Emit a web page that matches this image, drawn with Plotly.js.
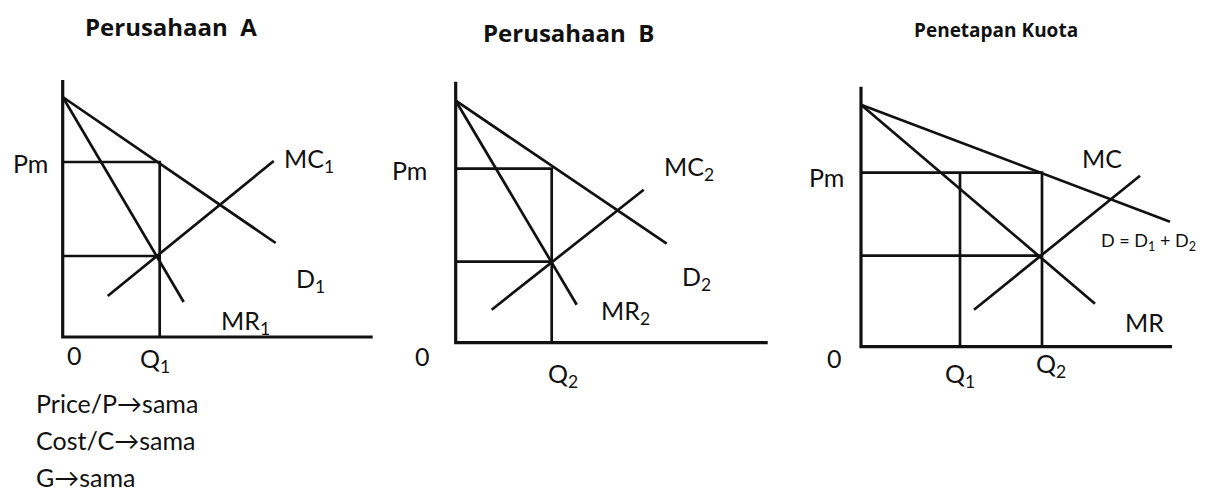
<!DOCTYPE html>
<html>
<head>
<meta charset="utf-8">
<script src="https://cdn.plot.ly/plotly-3.0.1.min.js"></script>
<style>html,body{margin:0;padding:0;background:#fff;}#chart{width:1213px;height:493px;}</style>
</head>
<body>
<div id="chart"></div>
<script>
// ---------- DATA (economic units: quantity q, price p) ----------
// Panel A : Perusahaan A
const titleA = "Perusahaan  A";
const demandA_q = [0, 21.3];  const demandA_p = [24.0, 9.4];
const mrA_q = [0, 12.1];      const mrA_p = [24.0, 3.5];
const mcA_q = [4.5, 21.1];    const mcA_p = [4.1, 17.6];
const pmA = 17.5;   const qA = 9.7;   const mcEqA = 8.1;
const axisA_q = 31.0; const axisA_p = 25.7;
const labelsA = ["Pm", "MC<sub>1</sub>", "D<sub>1</sub>", "MR<sub>1</sub>", "0", "Q<sub>1</sub>"];
const notesA = ["Price/P→sama", "Cost/C→sama", "G→sama"];

// Panel B : Perusahaan B
const titleB = "Perusahaan  B";
const demandB_q = [0, 21.1];  const demandB_p = [24.2, 9.9];
const mrB_q = [0, 12.1];      const mrB_p = [24.2, 3.8];
const mcB_q = [3.6, 18.8];    const mcB_p = [3.3, 15.3];
const pmB = 17.4;   const qB = 9.6;   const mcEqB = 8.1;
const axisB_q = 31.2; const axisB_p = 26.1;
const labelsB = ["Pm", "MC<sub>2</sub>", "D<sub>2</sub>", "MR<sub>2</sub>", "0", "Q<sub>2</sub>"];

// Panel C : Penetapan Kuota
const titleC = "Penetapan Kuota";
const demandC_q = [0, 30.9];  const demandC_p = [24.2, 12.5];
const mrC_q = [0, 23.4];      const mrC_p = [24.2, 4.3];
const mcC_q = [11.3, 27.9];   const mcC_p = [3.7, 17.1];
const pmC = 17.4;   const q1C = 9.9;  const q2C = 18.1;  const mcEqC = 9.1;
const axisC_q = 31.1; const axisC_p = 26.0;
const labelsC = ["Pm", "MC", "D = D<sub>1</sub> + D<sub>2</sub>", "MR", "0", "Q<sub>1</sub>", "Q<sub>2</sub>"];

// ---------- LAYOUT HELPERS ----------
const W = 1213, H = 493, PX = 10; // px per unit
const FONT = "Lato, 'Open Sans', sans-serif";
const TFONT = "'Open Sans', Lato, sans-serif";
const BLACK = "#111";
const LS = 25; // label font size
function domains(ox, oy, xr, yr) {
  return {
    x: [(ox + xr[0]*PX)/W, (ox + xr[1]*PX)/W],
    y: [(H - (oy - yr[0]*PX))/H, (H - (oy - yr[1]*PX))/H]
  };
}
const panels = [
  {ox: 62.7, oy: 337.0, xr: [-6, 32], yr: [-5, 27]},
  {ox: 455.7, oy: 342.7, xr: [-6, 33], yr: [-5, 27]},
  {ox: 861.0, oy: 346.7, xr: [-6, 34.5], yr: [-5, 27]}
];

const traces = [];
function line(ax, q, p, w) {
  traces.push({x: q, y: p, xaxis: "x" + (ax === 1 ? "" : ax), yaxis: "y" + (ax === 1 ? "" : ax),
    mode: "lines", line: {color: BLACK, width: w || 2.7}, hoverinfo: "skip", showlegend: false});
}
function axes(ax, qmax, pmax) {
  line(ax, [0, 0, qmax], [pmax, 0, 0], 3.2);
}
// Panel A
axes(1, axisA_q, axisA_p);
line(1, demandA_q, demandA_p);
line(1, mrA_q, mrA_p);
line(1, mcA_q, mcA_p);
line(1, [0, qA, qA], [pmA, pmA, 0]);
line(1, [0, qA], [mcEqA, mcEqA]);
// Panel B
axes(2, axisB_q, axisB_p);
line(2, demandB_q, demandB_p);
line(2, mrB_q, mrB_p);
line(2, mcB_q, mcB_p);
line(2, [0, qB, qB], [pmB, pmB, 0]);
line(2, [0, qB], [mcEqB, mcEqB]);
// Panel C
axes(3, axisC_q, axisC_p);
line(3, demandC_q, demandC_p);
line(3, mrC_q, mrC_p);
line(3, mcC_q, mcC_p);
line(3, [0, q2C, q2C], [pmC, pmC, 0]);
line(3, [q1C, q1C], [pmC, 0]);
line(3, [0, q2C], [mcEqC, mcEqC]);

const annotations = [];
function lab(ax, text, q, p, size, extra) {
  annotations.push(Object.assign({
    text: text, x: q, y: p, xref: "x" + (ax === 1 ? "" : ax), yref: "y" + (ax === 1 ? "" : ax),
    showarrow: false, xanchor: "center", yanchor: "middle",
    font: {family: FONT, size: size || LS, color: BLACK}
  }, extra || {}));
}
// Panel A labels
lab(1, labelsA[0], -3.2, pmA - 0.1);
lab(1, labelsA[1], 24.6, 17.7);
lab(1, labelsA[2], 24.8, 5.7);
lab(1, labelsA[3], 18.3, 1.5);
lab(1, labelsA[4], 1.2, -1.8);
lab(1, labelsA[5], qA - 0.5, -2.3);
// Panel B labels
lab(2, labelsB[0], -4.6, pmB - 0.1);
lab(2, labelsB[1], 23.3, 17.5);
lab(2, labelsB[2], 24.1, 6.5);
lab(2, labelsB[3], 17.0, 3.1);
lab(2, labelsB[4], -3.3, -1.3);
lab(2, labelsB[5], qB + 1.1, -3.2);
// Panel C labels
lab(3, labelsC[0], -3.5, pmC - 0.4);
lab(3, labelsC[1], 24.1, 18.9);
lab(3, labelsC[2], 28.7, 10.5, 18);
lab(3, labelsC[3], 28.3, 2.5);
lab(3, labelsC[4], -2.7, -1.1);
lab(3, labelsC[5], q1C, -2.8);
lab(3, labelsC[6], q2C + 0.9, -1.8);
// Titles and notes (paper)
function ptxt(text, xpx, ypx, size, bold, anchor, fam) {
  annotations.push({text: bold ? "<b>" + text + "</b>" : text, x: xpx / W, y: 1 - ypx / H,
    xref: "paper", yref: "paper", showarrow: false, xanchor: anchor || "center", yanchor: "middle",
    font: {family: fam || FONT, size: size, color: BLACK}});
}
ptxt(titleA, 171, 27, 24, true, "center", TFONT);
ptxt(titleB, 568, 32, 24, true, "center", TFONT);
ptxt(titleC, 996, 30, 19, true, "center", TFONT);
ptxt(notesA[0], 34, 403, LS, false, "left");
ptxt(notesA[1], 34, 440, LS, false, "left");
ptxt(notesA[2], 34, 477, LS, false, "left");

const layout = {
  width: W, height: H, margin: {l: 0, r: 0, t: 0, b: 0},
  paper_bgcolor: "#fff", plot_bgcolor: "rgba(0,0,0,0)", showlegend: false,
  annotations: annotations
};
panels.forEach((pn, i) => {
  const d = domains(pn.ox, pn.oy, pn.xr, pn.yr);
  const s = i === 0 ? "" : String(i + 1);
  layout["xaxis" + s] = {domain: d.x, range: pn.xr, visible: false, fixedrange: true, anchor: "y" + s};
  layout["yaxis" + s] = {domain: d.y, range: pn.yr, visible: false, fixedrange: true, anchor: "x" + s};
});
Plotly.newPlot("chart", traces, layout, {staticPlot: true, displayModeBar: false});
</script>
</body>
</html>
